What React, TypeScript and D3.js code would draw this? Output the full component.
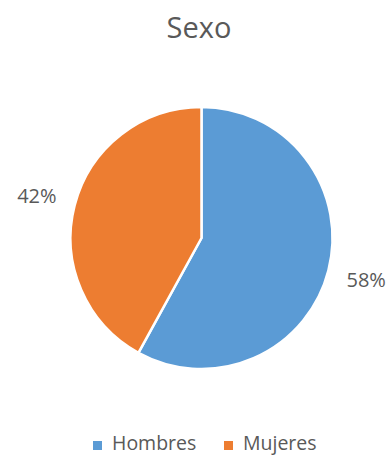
import React from "react";
import * as d3 from "d3";

const categories = ["Hombres", "Mujeres"];
const values = [58, 42];
const labels = ["58%", "42%"];
const colors = ["#5B9BD5", "#ED7D31"];
const title = "Sexo";

const W = 389;
const H = 455;
const cx = 201.5;
const cy = 238;
const R = 131;
const FONT = "'Open Sans', sans-serif";

export default function App() {
  const pie = d3.pie<number>().sort(null).value((d) => d)(values);
  const arc = d3.arc<d3.PieArcDatum<number>>().innerRadius(0).outerRadius(R);
  const labelArc = d3.arc<d3.PieArcDatum<number>>().innerRadius(R + 39).outerRadius(R + 39);

  const legendX = [93, 224];
  return (
    <div style={{ position: "absolute", left: 0, top: 0, margin: 0 }}>
      <svg width={W} height={H} style={{ display: "block", background: "#fff" }}>
        <text x={199} y={38} textAnchor="middle" fontFamily={FONT} fontSize={29} fill="#595959">
          {title}
        </text>
        <g transform={`translate(${cx},${cy})`}>
          {pie.map((p, i) => (
            <path key={i} d={arc(p) || ""} fill={colors[i]} stroke="#fff" strokeWidth={2.5} strokeLinejoin="round" />
          ))}
          {pie.map((p, i) => {
            const [lx, ly] = labelArc.centroid(p);
            return (
              <text key={"l" + i} x={lx} y={ly} dy="0.35em" textAnchor="middle" fontFamily={FONT} fontSize={20} fill="#595959">
                {labels[i]}
              </text>
            );
          })}
        </g>
        {categories.map((c, i) => (
          <g key={c}>
            <rect x={legendX[i]} y={441} width={9} height={9} fill={colors[i]} />
            <text x={legendX[i] + 19} y={450} fontFamily={FONT} fontSize={19.5} fill="#595959">
              {c}
            </text>
          </g>
        ))}
      </svg>
    </div>
  );
}
